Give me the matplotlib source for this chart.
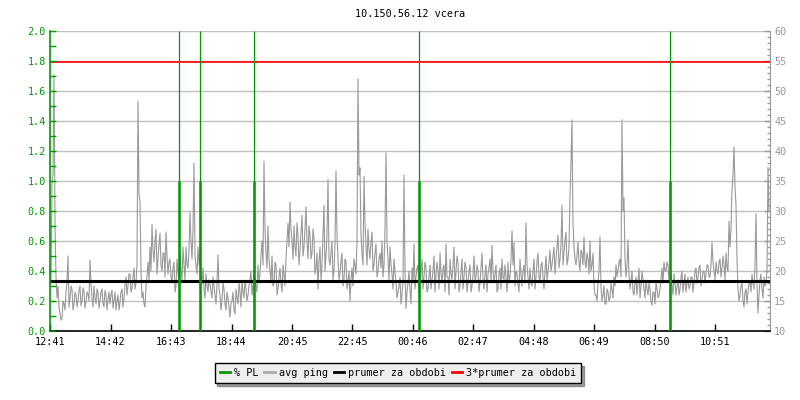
import numpy as np
import matplotlib
matplotlib.use("Agg")
import matplotlib.pyplot as plt
from matplotlib.lines import Line2D
from matplotlib.ticker import MultipleLocator, FormatStrFormatter

title = "10.150.56.12 vcera"

# avg ping [ms]; samples every 2 minutes from 12:41.
# ping_a = samples at 0, 4, 8 ... min; ping_b = samples at 2, 6, 10 ... min
ping_a = [
    20, 35, 52.7, 19, 17.5, 13, 12, 14.5, 16.5, 22.5,
    15.5, 17, 14.5, 16, 15, 17.5, 15, 16.5, 14.8, 16.2,
    21.8, 15.5, 17.5, 14.5, 16.5, 15, 17, 14, 16, 15.2,
    14.5, 16.8, 15, 13.5, 16, 14.8, 17, 15.5, 19, 17.5,
    19.5, 17, 20.5, 18, 48.3, 31.5, 15.5, 14.5, 17.5, 21.5,
    24, 27.8, 21.5, 27, 22, 26.3, 20, 23, 26.5, 19.5,
    22, 18, 21.5, 17.5, 20, 23, 18.5, 21, 24, 20.5,
    29.7, 22, 38, 21, 24, 23.5, 18, 17, 19.5, 16.5,
    18, 15.5, 17.5, 14.5, 22.7, 16, 15, 17, 13.5, 15.5,
    12.3, 15, 13.5, 17, 14.5, 16.5, 18.5, 15.5, 17, 16,
    18.5, 16, 20, 17.5, 21, 19.5, 25, 38.3, 23, 27.5,
    20, 22.5, 18, 21, 17, 20.5, 16.5, 19.5, 22, 28,
    31.5, 25, 27.5, 22.5, 26, 23.5, 29.3, 24, 30.7, 22,
    26, 23, 25.5, 20.5, 17, 24, 21, 31, 22.5, 35.3,
    21, 25, 20, 36.7, 22, 19.5, 23, 18.5, 21.5, 18,
    15, 20.5, 22, 19.5, 52, 37.2, 23, 35.8, 24, 27,
    22, 26.5, 21, 24.5, 20, 23, 25, 21, 39.7, 22,
    24, 19.5, 22, 18, 16.5, 19, 16, 36, 13.7, 18,
    17, 20.5, 24.5, 19, 21, 17.5, 22, 19, 20.5, 17,
    21, 18.5, 22.5, 19.5, 20, 23, 18, 21, 24.5, 19,
    22, 18.5, 24, 20, 21.5, 17.5, 22, 19, 20.5, 18,
    21, 17.5, 22.5, 19, 20, 18, 23, 17, 21, 19.5,
    22, 24.3, 18, 21, 17, 20.5, 22, 18.5, 19, 21.5,
    19, 26.7, 24.7, 20, 18, 22, 17.5, 21, 28, 19,
    20.5, 17.5, 22, 19, 23, 18, 21.5, 17, 22.5, 20,
    23.5, 21, 24, 22, 26, 22, 31, 23, 26.5, 22,
    32.5, 45.2, 24, 21, 24.8, 20, 23, 25.7, 20.5, 22,
    25, 21, 17.5, 16, 18, 25.7, 15, 17.5, 14.5, 16.5,
    15.5, 17, 19, 21, 20, 22, 45.2, 32.2, 19, 25.2,
    17, 20, 16, 19, 18, 15.5, 20, 17, 18.5, 16,
    17, 14.3, 16.5, 18, 15.5, 17, 20.5, 21.5, 20, 21,
    18, 17.5, 19.5, 16, 18.5, 17, 20, 18, 16.5, 19,
    17.5, 19, 18, 20.5, 19, 21, 18.5, 20, 19.5, 21,
    19, 24.7, 20, 21.5, 19.5, 22, 20.5, 21, 23, 20,
    24, 33.5, 40.7, 31, 17, 16, 18, 14, 17, 16.5,
    18, 19.5, 17, 29.5, 13, 18.5, 17, 19, 18, 37.3,
]
ping_b = [
    18, 36, 28, 15.5, 14, 11.8, 15, 13.5, 18, 14,
    17.5, 13.5, 16.5, 14, 16.8, 14.2, 17.2, 13.8, 16.5, 15,
    18, 14, 15.5, 17, 13.8, 16.5, 14.5, 16.8, 13.5, 16.5,
    16, 13.8, 16.5, 15, 13.5, 16.5, 14, 17.5, 16, 19.5,
    16.5, 19, 17, 21, 33, 20, 16.5, 14, 19, 18.5,
    20, 23.5, 25, 19.5, 24.5, 21, 23, 19, 22.5, 21.5,
    19, 20.5, 16.5, 22, 17.5, 20, 24, 18.5, 21, 23.5,
    25, 27, 22.5, 19.5, 21, 19, 20.5, 15.5, 17.5, 18.5,
    16.5, 19, 16, 18, 17, 13.5, 18, 14.5, 16.5, 14,
    14.5, 16.5, 12.8, 15.5, 18, 14, 16.5, 18.5, 15, 17.5,
    20, 17.5, 18.5, 16.5, 18, 22.5, 21, 27, 20.5, 22,
    18, 17.5, 21.5, 16, 19, 18, 21, 17.5, 25, 24,
    27, 22, 24, 28, 21, 26.5, 22.5, 27, 25, 27.5,
    22, 27, 19.5, 23, 21.5, 18.5, 26, 20, 26, 22,
    23, 18.5, 24.5, 26, 18.5, 21.5, 17.5, 22, 17, 20,
    18.5, 17.5, 21, 25, 36, 26, 21, 28, 21, 23.5,
    25, 20, 23, 19, 22, 20.5, 19, 27, 25, 18.5,
    21, 17, 20, 15.5, 17.5, 14.5, 18.5, 20, 16.5, 20,
    14.5, 18, 17, 20.5, 16.5, 19.5, 17, 21.5, 16.5, 19,
    17, 20, 16.5, 21.5, 17, 19.5, 20.5, 16.5, 19, 16,
    19.5, 21, 17, 22.5, 16.5, 20, 17, 21.5, 16.5, 20,
    16.5, 19.5, 18, 21, 16.5, 20.5, 18.5, 19.5, 16.5, 20.5,
    18, 20, 19.5, 16.5, 19.5, 17, 19, 21, 16.5, 18,
    22, 21, 17.5, 19.5, 16.5, 19.5, 20, 18, 21, 17,
    18, 20, 17, 21.5, 19, 21, 19, 20, 18.5, 21.5,
    20, 22.5, 19.5, 24, 20.5, 24.5, 21, 25, 21, 24,
    38, 28, 22, 22.5, 21.5, 23.5, 21, 21.5, 23, 19.5,
    20, 23, 16, 15, 20, 17.5, 16, 14.5, 17, 15,
    18, 15.5, 17.5, 19, 21.5, 19, 30, 22, 21, 19.5,
    18.5, 16.5, 18, 16, 20.5, 17.5, 18.5, 15.5, 17, 18,
    15, 16.5, 14.5, 17, 16, 18.5, 18, 20, 21.5, 18,
    19.5, 16, 18, 17.5, 16, 19, 16.5, 19.5, 18, 17,
    19, 16.5, 20, 18, 20.5, 17.5, 20, 18, 21, 19,
    21, 21.5, 18.5, 20, 21.5, 19, 22.5, 18.5, 20.5, 28.3,
    27, 36, 34, 22, 15, 17.5, 15, 16.5, 14.5, 18,
    16.5, 18, 21, 18, 16, 19.5, 15.5, 17.5, 20, 30,
]
sample_step_min = 2

# packet loss events (minutes after 12:41) and their % PL value
pl_times = [257, 300, 408, 737, 1239]
pl_values = [1.0, 1.0, 1.0, 1.0, 1.0]

avg_period = 18.3          # prumer za obdobi [ms]
avg_factor = 3             # 3*prumer

tick_minutes = [0, 121, 242, 363, 484, 604, 725, 846, 967, 1088, 1209, 1330]
tick_labels = ["12:41", "14:42", "16:43", "18:44", "20:45", "22:45",
               "00:46", "02:47", "04:48", "06:49", "08:50", "10:51"]

GREEN = "#009900"
GRAY = "#999999"
GRID = "#c0c0c0"
FS = 7.3
plt.rcParams["font.family"] = "DejaVu Sans Mono"

fig = plt.figure(figsize=(8, 4), dpi=100)
ax2 = fig.add_axes([0.0625, 0.1725, 0.9, 0.75])
ax = ax2.twinx()
ax.yaxis.tick_left()
ax.yaxis.set_label_position("left")
ax2.yaxis.tick_right()
ax2.yaxis.set_label_position("right")
ax.set_zorder(ax2.get_zorder() + 1)
ax.patch.set_visible(False)

avg_ping = np.column_stack([ping_a, ping_b]).ravel()
t = np.arange(len(avg_ping)) * sample_step_min
ax2.plot(t, avg_ping, color=GRAY, lw=0.8, zorder=2)
ax2.axhline(avg_period, color="black", lw=2.2, zorder=3)
ax2.axhline(avg_factor * avg_period, color="#ff0000", lw=1.2, zorder=3)

ax.vlines(pl_times, 0, 2.0, color=GREEN, lw=0.9, zorder=4)
ax.vlines(pl_times, 0, pl_values, color=GREEN, lw=1.8, zorder=4)

ax2.set_xlim(0, 1440)
ax2.set_ylim(10, 60)
ax.set_ylim(0, 2.0)

ax2.yaxis.set_major_locator(MultipleLocator(5))
ax2.yaxis.set_minor_locator(MultipleLocator(1))
ax.yaxis.set_major_locator(MultipleLocator(0.2))
ax.yaxis.set_minor_locator(MultipleLocator(0.1))
ax.yaxis.set_major_formatter(FormatStrFormatter("%.1f"))

ax2.set_axisbelow(True)
ax2.grid(axis="y", which="major", color=GRID, lw=1.0)
ax2.set_xticks(tick_minutes)
ax2.set_xticklabels(tick_labels)

ax2.tick_params(axis="x", direction="in", length=5, width=1, colors="black",
                labelsize=FS, pad=4)
ax2.tick_params(axis="y", which="major", direction="in", length=4, width=1,
                color=GRAY, labelcolor=GRAY, labelsize=FS, pad=3)
ax2.tick_params(axis="y", which="minor", direction="in", length=2, width=1,
                color=GRAY)
ax.tick_params(axis="y", which="both", direction="in", length=4, width=1,
               color=GREEN, labelcolor=GREEN, labelsize=FS, pad=3)

for s in ["top", "left"]:
    ax2.spines[s].set_visible(False)
ax2.spines["right"].set_color(GRAY)
ax2.spines["bottom"].set_color("black")
ax2.spines["bottom"].set_linewidth(1.2)
for s in ["top", "right", "bottom"]:
    ax.spines[s].set_visible(False)
ax.spines["left"].set_color(GREEN)
ax.spines["left"].set_linewidth(1.2)

fig.text(0.5125, 0.965, title, ha="center", va="center", fontsize=FS)

handles = [
    Line2D([], [], color=GREEN, lw=2),
    Line2D([], [], color="#aaaaaa", lw=2),
    Line2D([], [], color="black", lw=2),
    Line2D([], [], color="#ff0000", lw=2),
]
labels = ["% PL", "avg ping", "prumer za obdobi", "3*prumer za obdobi"]
leg = fig.legend(handles, labels, loc="center", bbox_to_anchor=(0.4975, 0.068),
                 ncol=4, fontsize=FS, frameon=True, fancybox=False, shadow=True,
                 handlelength=1.0, handletextpad=0.4, columnspacing=0.6,
                 borderpad=0.5, borderaxespad=0)
leg.get_frame().set_facecolor("#eeeeee")
leg.get_frame().set_edgecolor("black")
leg.get_frame().set_alpha(1)

fig.savefig("out.png", dpi=100)
